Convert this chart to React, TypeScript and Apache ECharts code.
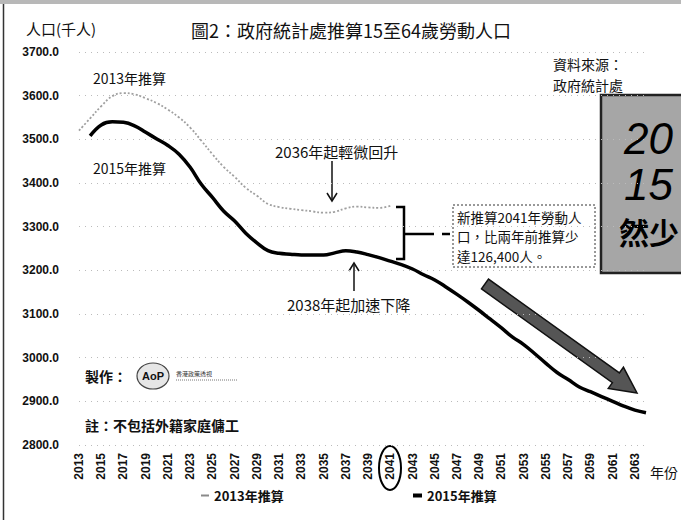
import React, { useEffect, useRef } from "react";
import * as echarts from "echarts";

const years = [
  "2013", "2014", "2015", "2016", "2017", "2018", "2019", "2020", "2021", "2022",
  "2023", "2024", "2025", "2026", "2027", "2028", "2029", "2030", "2031", "2032",
  "2033", "2034", "2035", "2036", "2037", "2038", "2039", "2040", "2041", "2042",
  "2043", "2044", "2045", "2046", "2047", "2048", "2049", "2050", "2051", "2052",
  "2053", "2054", "2055", "2056", "2057", "2058", "2059", "2060", "2061", "2062",
  "2063", "2064",
];

// 2013年推算 (2013–2041)
const proj2013 = [
  3520, 3548, 3576, 3599, 3606, 3603, 3594, 3583, 3568, 3550,
  3527, 3497, 3466, 3437, 3414, 3389, 3371, 3352, 3345, 3341,
  3338, 3335, 3332, 3334, 3342, 3346, 3344, 3343, 3347.4,
];

// 2015年推算 (2014–2064)
const proj2015 = [
  null, 3508, 3533, 3540, 3539, 3531, 3516, 3501, 3486, 3466,
  3436, 3397, 3367, 3336, 3313, 3285, 3263, 3245, 3239, 3237,
  3235, 3235, 3235, 3240, 3245, 3242, 3236, 3229, 3221, 3213,
  3203, 3190, 3178, 3162, 3145, 3127, 3108, 3088, 3068, 3047,
  3030, 3009, 2987, 2966, 2950, 2933, 2922, 2911, 2900, 2889,
  2880, 2874,
];

const seriesNames = ["2013年推算", "2015年推算"];
const yMin = 2800;
const yMax = 3700;
const yStep = 100;

const CJK = "'Noto Sans CJK TC', 'Noto Sans CJK SC', sans-serif";
const NUM = "'Liberation Sans', Arial, sans-serif";

export default function App() {
  const ref = useRef<HTMLDivElement>(null);

  useEffect(() => {
    if (!ref.current) return;
    const chart = echarts.init(ref.current, null, { renderer: "svg" });

    // big diagonal arrow geometry
    const S = [485, 284];
    const T = [637, 393];
    const dx = T[0] - S[0], dy = T[1] - S[1];
    const L = Math.sqrt(dx * dx + dy * dy);
    const u = [dx / L, dy / L];
    const n = [-u[1], u[0]];
    const B = [T[0] - 26 * u[0], T[1] - 26 * u[1]];
    const pt = (p: number[], k: number) => [p[0] + k * n[0], p[1] + k * n[1]];
    const arrowPts = [pt(S, 6), pt(B, 6), pt(B, 13), T, pt(B, -13), pt(B, -6), pt(S, -6)];

    const txt = (x: number, y: number, text: string, size: number, extra: any = {}) => ({
      type: "text",
      x,
      y,
      style: {
        text,
        fontSize: size,
        fontFamily: CJK,
        fill: "#111",
        verticalAlign: "middle",
        ...extra,
      },
    });

    chart.setOption({
      animation: false,
      backgroundColor: "#fff",
      grid: { left: 79, right: 35, top: 52, bottom: 75, containLabel: false },
      title: {
        text: "圖2：政府統計處推算15至64歲勞動人口",
        left: 186,
        top: 16,
        textStyle: { fontFamily: CJK, fontSize: 18, fontWeight: "normal", color: "#111" },
      },
      legend: [
        {
          data: [seriesNames[0]],
          left: 196,
          top: 484,
          icon: "rect",
          itemWidth: 8,
          itemHeight: 2,
          textStyle: { fontFamily: CJK, fontSize: 13, fontWeight: "bold", color: "#111" },
        },
        {
          data: [seriesNames[1]],
          left: 408,
          top: 484,
          icon: "rect",
          itemWidth: 9,
          itemHeight: 4,
          textStyle: { fontFamily: CJK, fontSize: 13, fontWeight: "bold", color: "#111" },
        },
      ],
      xAxis: {
        type: "category",
        data: years,
        boundaryGap: false,
        axisLine: { show: false },
        axisTick: { show: false },
        splitLine: { show: false },
        axisLabel: {
          interval: 1,
          rotate: 90,
          margin: 8,
          fontFamily: NUM,
          fontWeight: "bold",
          fontSize: 12,
          color: "#111",
        },
      },
      yAxis: {
        type: "value",
        min: yMin,
        max: yMax,
        interval: yStep,
        axisLine: { show: false },
        axisTick: { show: false },
        splitLine: { lineStyle: { color: "#bbb", type: [1, 5], width: 1 } },
        axisLabel: {
          margin: 20,
          formatter: (v: number) => v.toFixed(1),
          fontFamily: NUM,
          fontWeight: "bold",
          fontSize: 12,
          color: "#111",
        },
      },
      series: [
        {
          name: seriesNames[0],
          type: "line",
          data: proj2013,
          smooth: 0.4,
          showSymbol: false,
          symbol: "none",
          itemStyle: { color: "#8a8a8a" },
          lineStyle: { color: "#a0a0a0", width: 1.8, type: [2, 2] },
          z: 2,
        },
        {
          name: seriesNames[1],
          type: "line",
          data: proj2015,
          smooth: 0.4,
          showSymbol: false,
          symbol: "none",
          itemStyle: { color: "#000" },
          lineStyle: { color: "#000", width: 3.5 },
          z: 3,
        },
      ],
      graphic: [
        // scan artefacts: top band and left border
        { type: "rect", shape: { x: 0, y: 0, width: 681, height: 4 }, style: { fill: "#b8b8b8" } },
        { type: "line", shape: { x1: 3.5, y1: 4, x2: 3.5, y2: 520 }, style: { stroke: "#333", lineWidth: 1.5 } },
        // y-axis title
        txt(26, 28, "人口(千人)", 15),
        // series labels
        txt(93, 78, "2013年推算", 14),
        txt(93, 168, "2015年推算", 14),
        // 2036 annotation
        txt(275, 151, "2036年起輕微回升", 15),
        { type: "line", shape: { x1: 332, y1: 161, x2: 332, y2: 200 }, style: { stroke: "#111", lineWidth: 1.5 } },
        { type: "polyline", shape: { points: [[327, 193], [332, 201], [337, 193]] }, style: { stroke: "#111", lineWidth: 1.5, fill: "none" } },
        // 2038 annotation
        txt(287, 304, "2038年起加速下降", 15),
        { type: "line", shape: { x1: 354, y1: 291, x2: 354, y2: 265 }, style: { stroke: "#111", lineWidth: 1.5 } },
        { type: "polyline", shape: { points: [[349, 271], [354, 263], [359, 271]] }, style: { stroke: "#111", lineWidth: 1.5, fill: "none" } },
        // bracket
        { type: "polyline", shape: { points: [[396, 207], [404, 207], [404, 259], [396, 259]] }, style: { stroke: "#000", lineWidth: 2.5, fill: "none" } },
        { type: "line", shape: { x1: 404, y1: 234, x2: 434, y2: 234 }, style: { stroke: "#000", lineWidth: 2.5 } },
        { type: "line", shape: { x1: 442, y1: 234, x2: 450, y2: 234 }, style: { stroke: "#000", lineWidth: 2.5 } },
        // callout box
        { type: "rect", shape: { x: 453, y: 205, width: 142, height: 62 }, style: { fill: "#fff", stroke: "#333", lineWidth: 1, lineDash: [2, 2] } },
        txt(457, 207, "新推算2041年勞動人\n口，比兩年前推算少\n達126,400人。", 13.5, { verticalAlign: "top", lineHeight: 19.6 }),
        // source
        txt(553, 54, "資料來源：\n政府統計處", 14, { verticalAlign: "top", lineHeight: 20.5 }),
        // grey banner
        { type: "rect", shape: { x: 601, y: 95, width: 90, height: 178 }, style: { fill: "#a6a6a6", stroke: "#222", lineWidth: 2.5 } },
        txt(624, 138, "20", 44, { fontFamily: NUM, fontStyle: "italic", fill: "#000" }),
        txt(624, 184, "15", 44, { fontFamily: NUM, fontStyle: "italic", fill: "#000" }),
        txt(619, 231, "然少", 30, { fontWeight: "bold", fill: "#000" }),
        // big diagonal arrow
        { type: "polygon", shape: { points: arrowPts }, style: { fill: "#555", stroke: "#111", lineWidth: 1.5 } },
        // credits
        txt(85, 376, "製作：", 14, { fontWeight: "bold" }),
        { type: "ellipse", shape: { cx: 153, cy: 376, rx: 16, ry: 13 }, style: { fill: "#e6e6e6", stroke: "#444", lineWidth: 1.2 } },
        txt(153, 376, "AoP", 11, { fontFamily: NUM, fontWeight: "bold", align: "center" }),
        txt(176, 373, "香港政策透視", 6, { fill: "#333" }),
        { type: "line", shape: { x1: 176, y1: 380, x2: 238, y2: 380 }, style: { stroke: "#777", lineWidth: 1, lineDash: [1, 1] } },
        txt(85, 425, "註：不包括外籍家庭傭工", 14, { fontWeight: "bold" }),
        // x axis unit
        txt(650, 472, "年份", 14),
        // circle around 2041
        { type: "ellipse", shape: { cx: 390, cy: 468, rx: 11, ry: 22 }, style: { fill: "none", stroke: "#000", lineWidth: 2 } },
      ],
    });

    return () => chart.dispose();
  }, []);

  return (
    <div
      ref={ref}
      style={{ position: "absolute", left: 0, top: 0, width: 681, height: 520, background: "#fff" }}
    />
  );
}
